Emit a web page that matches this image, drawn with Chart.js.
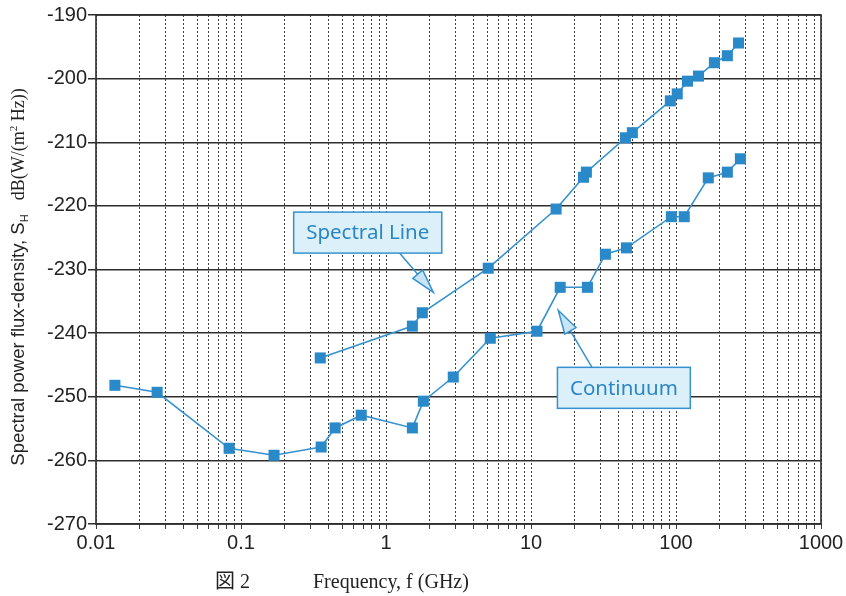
<!DOCTYPE html>
<html>
<head>
<meta charset="utf-8">
<script src="https://cdn.jsdelivr.net/npm/chart.js@4/dist/chart.umd.min.js"></script>
<style>
  html, body { margin: 0; padding: 0; background: #ffffff; }
  canvas { display: block; }
</style>
</head>
<body>
<canvas id="c" width="846" height="596" style="width:846px;height:596px"></canvas>
<script>
// ---- data ----
const spectralFreq = [0.352, 1.52, 1.78, 5.07, 14.9, 23.0, 24.1, 44.8, 50.0, 91.4, 102, 120, 143, 184, 226, 270];
const spectralDb   = [-243.9, -238.9, -236.8, -229.8, -220.5, -215.5, -214.7, -209.3, -208.5, -203.5, -202.4, -200.4, -199.6, -197.5, -196.4, -194.4];

const continuumFreq = [0.0135, 0.0264, 0.0828, 0.169, 0.357, 0.446, 0.675, 1.52, 1.81, 2.91, 5.24, 11.0, 15.9, 24.5, 32.6, 45.5, 92.9, 114, 167, 226, 278];
const continuumDb   = [-248.2, -249.3, -258.1, -259.2, -257.9, -254.9, -252.9, -254.9, -250.7, -246.9, -240.8, -239.7, -232.8, -232.8, -227.6, -226.6, -221.7, -221.7, -215.6, -214.7, -212.6];

const xDecades    = [0.01, 0.1, 1, 10, 100, 1000];
const xTickLabels = ['0.01', '0.1', '1', '10', '100', '1000'];
const yTickValues = [-270, -260, -250, -240, -230, -220, -210, -200, -190];

const calloutLabels = ['Spectral Line', 'Continuum'];
const calloutBoxFreq = [0.748, 43.7];
const calloutBoxDb   = [-224.2, -248.6];
const calloutTipFreq = [2.12, 15.4];
const calloutTipDb   = [-233.6, -236.4];

const yTitleSans = 'Spectral power flux-density, S';
const yTitleSub = 'H';
const yTitleSerifA = 'dB(W/(m';
const yTitleSup = '2';
const yTitleSerifB = ' Hz))';
const figLabel = '図 2';
const xTitle = 'Frequency, f (GHz)';

// minor log ticks (1..9 x each decade)
const xTickValues = [];
xDecades.forEach((d, i) => {
  if (i === xDecades.length - 1) { xTickValues.push(d); return; }
  for (let k = 1; k <= 9; k++) xTickValues.push(+(d * k).toPrecision(6));
});

const BLUE = '#2a89c9';
const LINE_BLUE = '#3592cf';

const framePlugin = {
  id: 'frame',
  beforeDatasetsDraw(chart) {
    const { ctx, chartArea: a } = chart;
    ctx.save();
    ctx.strokeStyle = '#2e2e2e';
    ctx.lineWidth = 1.6;
    ctx.strokeRect(a.left, a.top, a.right - a.left, a.bottom - a.top);
    ctx.restore();
  }
};

const calloutPlugin = {
  id: 'callouts',
  afterDatasetsDraw(chart) {
    const { ctx } = chart;
    const xs = chart.scales.x, ys = chart.scales.y;
    ctx.save();
    ctx.font = '20.5px "Noto Sans"';
    calloutLabels.forEach((label, i) => {
      const cx = xs.getPixelForValue(calloutBoxFreq[i]);
      const cy = ys.getPixelForValue(calloutBoxDb[i]);
      const tx = xs.getPixelForValue(calloutTipFreq[i]);
      const ty = ys.getPixelForValue(calloutTipDb[i]);
      const tw = ctx.measureText(label).width;
      const w = tw + 25, h = 41;
      const left = cx - w / 2, top = cy - h / 2;
      const below = ty > cy;
      const ax = below ? left + w * 0.715 : left + w * 0.26;
      const ay = below ? top + h : top;
      const dx = tx - ax, dy = ty - ay;
      const len = Math.hypot(dx, dy);
      const ux = dx / len, uy = dy / len;
      const headLen = 24, half = 6.5;
      const bx = tx - ux * headLen, by = ty - uy * headLen;
      ctx.strokeStyle = LINE_BLUE;
      ctx.lineWidth = 1.5;
      ctx.beginPath();
      ctx.moveTo(ax, ay);
      ctx.lineTo(bx, by);
      ctx.stroke();
      ctx.beginPath();
      ctx.moveTo(tx, ty);
      ctx.lineTo(bx - uy * half, by + ux * half);
      ctx.lineTo(bx + uy * half, by - ux * half);
      ctx.closePath();
      ctx.fillStyle = '#c9e4f4';
      ctx.fill();
      ctx.stroke();
      ctx.fillStyle = '#dcf0fa';
      ctx.fillRect(left, top, w, h);
      ctx.strokeRect(left, top, w, h);
      ctx.fillStyle = '#2a86c4';
      ctx.textAlign = 'center';
      ctx.textBaseline = 'middle';
      ctx.fillText(label, cx, cy + 1);
    });
    ctx.restore();
  }
};

const titlePlugin = {
  id: 'titles',
  afterDraw(chart) {
    const { ctx } = chart;
    ctx.save();
    const segs = [
      { t: yTitleSans, f: '18.5px "Liberation Sans"', dy: 0 },
      { t: yTitleSub, f: '11px "Liberation Sans"', dy: 4 },
      { t: '   ', f: '17px "Liberation Sans"', dy: 0 },
      { t: yTitleSerifA, f: '18px "Liberation Serif"', dy: 0 },
      { t: yTitleSup, f: '11px "Liberation Serif"', dy: -7 },
      { t: yTitleSerifB, f: '18px "Liberation Serif"', dy: 0 }
    ];
    let total = 0;
    segs.forEach(s => { ctx.font = s.f; s.w = ctx.measureText(s.t).width; total += s.w; });
    ctx.translate(24, 277);
    ctx.rotate(-Math.PI / 2);
    ctx.fillStyle = '#222';
    ctx.textBaseline = 'alphabetic';
    ctx.textAlign = 'left';
    let x = -total / 2;
    segs.forEach(s => { ctx.font = s.f; ctx.fillText(s.t, x, s.dy); x += s.w; });
    ctx.restore();

    ctx.save();
    ctx.fillStyle = '#222';
    ctx.textBaseline = 'alphabetic';
    ctx.textAlign = 'left';
    ctx.font = '20px "Liberation Serif", "Noto Sans CJK JP"';
    ctx.fillText(figLabel, 215, 588);
    ctx.fillText(xTitle, 313, 588);
    ctx.restore();
  }
};

const toPoints = (fs, vs) => fs.map((f, i) => ({ x: f, y: vs[i] }));

new Chart(document.getElementById('c'), {
  type: 'line',
  data: {
    datasets: [
      {
        label: 'Spectral Line',
        data: toPoints(spectralFreq, spectralDb),
        borderColor: LINE_BLUE, borderWidth: 1.6,
        pointStyle: 'rect', pointRadius: 7.8,
        pointBackgroundColor: BLUE, pointBorderColor: BLUE, pointBorderWidth: 0,
        tension: 0, fill: false
      },
      {
        label: 'Continuum',
        data: toPoints(continuumFreq, continuumDb),
        borderColor: LINE_BLUE, borderWidth: 1.6,
        pointStyle: 'rect', pointRadius: 7.8,
        pointBackgroundColor: BLUE, pointBorderColor: BLUE, pointBorderWidth: 0,
        tension: 0, fill: false
      }
    ]
  },
  options: {
    responsive: false,
    animation: false,
    devicePixelRatio: 1,
    layout: { padding: { top: 15, right: 25, left: 0, bottom: 0 } },
    plugins: { legend: { display: false }, tooltip: { enabled: false } },
    scales: {
      x: {
        type: 'logarithmic',
        min: 0.01, max: 1000,
        afterBuildTicks: (s) => { s.ticks = xTickValues.map(v => ({ value: v })); },
        afterFit: (s) => { s.height = 72; },
        ticks: {
          autoSkip: false, maxRotation: 0, minRotation: 0, padding: 2,
          color: '#222',
          font: { family: '"Liberation Sans", Arial, sans-serif', size: 20 },
          callback: (v) => {
            const i = xDecades.findIndex(d => Math.abs(Math.log10(d) - Math.log10(v)) < 1e-6);
            return i >= 0 ? xTickLabels[i] : '';
          }
        },
        grid: { color: '#3c3c3c', lineWidth: 1, tickLength: 5 },
        border: { display: false, dash: [2, 2] }
      },
      y: {
        min: -270, max: -190,
        afterBuildTicks: (s) => { s.ticks = yTickValues.map(v => ({ value: v })); },
        afterFit: (s) => { s.width = 96; },
        ticks: {
          padding: 1, color: '#222',
          font: { family: '"Liberation Sans", Arial, sans-serif', size: 20 }
        },
        grid: { color: '#2e2e2e', lineWidth: 1.5, tickLength: 8 },
        border: { display: false }
      }
    }
  },
  plugins: [framePlugin, calloutPlugin, titlePlugin]
});
</script>
</body>
</html>
